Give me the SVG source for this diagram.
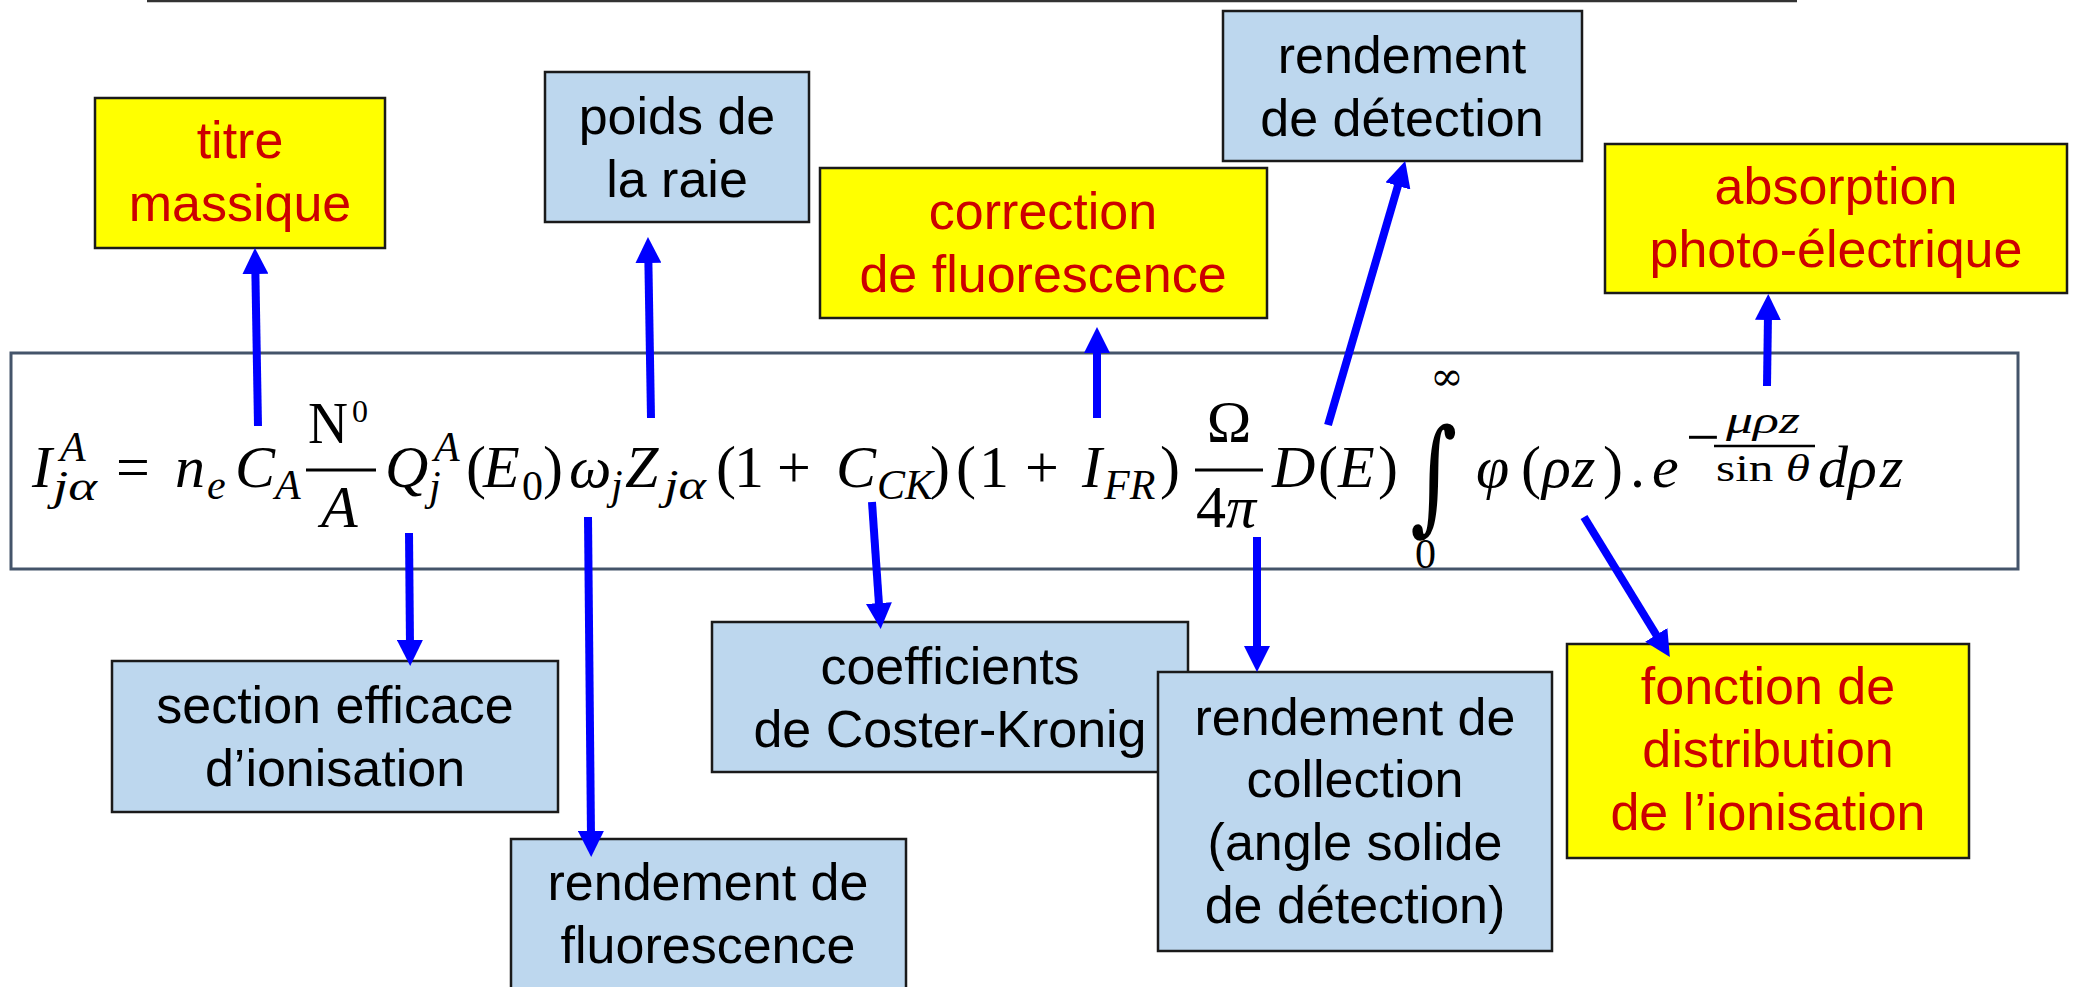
<svg xmlns="http://www.w3.org/2000/svg" width="2074" height="987" viewBox="0 0 2074 987">
<defs>
<style>
.lbl{font-family:"Liberation Sans",Arial,sans-serif;font-size:52px;text-anchor:middle}
.blk{fill:#000}
.red{fill:#CC0000}
.bbox{fill:#BDD7EE;stroke:#1a1a1a;stroke-width:2.5}
.ybox{fill:#FFFF00;stroke:#1a1a1a;stroke-width:2.5}
.m{font-family:"Liberation Serif","Times New Roman",serif;font-size:60px;fill:#000}
.i{font-style:italic}
.s{font-size:42px}
.ss{font-size:32px}
.e{font-size:38px}
.arr{stroke:#0000FF;stroke-width:8;fill:none;marker-end:url(#ah)}
.bar{stroke:#000;stroke-width:3}
</style>
<marker id="ah" markerUnits="userSpaceOnUse" viewBox="0 0 26 26" markerWidth="26" markerHeight="26" refX="6" refY="13" orient="auto">
<path d="M0,0 L26,13 L0,26 z" fill="#0000FF"/>
</marker>
</defs>
<rect width="2074" height="987" fill="#FFFFFF"/>
<line x1="147" y1="1" x2="1797" y2="1" stroke="#333" stroke-width="2.5"/>

<g id="formula">
<rect x="11" y="353" width="2007" height="216" fill="#FFFFFF" stroke="#44546A" stroke-width="3"/>
<text class="m i" x="32" y="487">I</text>
<text class="m i s" x="60" y="461">A</text>
<text class="m i s" x="53" y="500" textLength="44" lengthAdjust="spacingAndGlyphs">jα</text>
<text class="m" x="116" y="487" font-size="64">=</text>
<text class="m i" x="175" y="487">n</text>
<text class="m i s" x="207" y="499">e</text>
<text class="m i" x="235" y="487">C</text>
<text class="m i s" x="275" y="499">A</text>
<line class="bar" x1="306" y1="470" x2="376" y2="470"/>
<text class="m" x="308" y="443" font-size="42" textLength="40" lengthAdjust="spacingAndGlyphs">N</text>
<text class="m ss" x="352" y="422">0</text>
<text class="m i" x="321" y="527" font-size="44">A</text>
<text class="m i" x="385" y="487">Q</text>
<text class="m i s" x="434" y="461">A</text>
<text class="m i s" x="429" y="500">j</text>
<text class="m" x="466" y="487">(</text>
<text class="m i" x="483" y="487">E</text>
<text class="m s" x="522" y="500">0</text>
<text class="m" x="543" y="487">)</text>
<text class="m i" x="569" y="487">ω</text>
<text class="m i s" x="611" y="499">j</text>
<text class="m i" x="625" y="487">Z</text>
<text class="m i s" x="664" y="499" textLength="42" lengthAdjust="spacingAndGlyphs">jα</text>
<text class="m" x="716" y="487">(</text>
<text class="m" x="734" y="487">1</text>
<text class="m" x="777" y="487" font-size="68">+</text>
<text class="m i" x="836" y="487">C</text>
<text class="m i s" x="877" y="499">CK</text>
<text class="m" x="930" y="487">)</text>
<text class="m" x="956" y="487">(</text>
<text class="m" x="979" y="487">1</text>
<text class="m" x="1025" y="487" font-size="68">+</text>
<text class="m i" x="1082" y="487">I</text>
<text class="m i s" x="1104" y="499">FR</text>
<text class="m" x="1160" y="487">)</text>
<line class="bar" x1="1195" y1="470" x2="1263" y2="470"/>
<text class="m" x="1229" y="442" font-size="44" text-anchor="middle">Ω</text>
<text class="m" x="1196" y="527" font-size="44">4</text>
<text class="m i" x="1226" y="527" font-size="44">π</text>
<text class="m i" x="1272" y="487">D</text>
<text class="m" x="1318" y="487">(</text>
<text class="m i" x="1338" y="487">E</text>
<text class="m" x="1378" y="487">)</text>
<text x="1434" y="0" font-family="DejaVu Serif,serif" font-size="90" text-anchor="middle" transform="translate(0,518) scale(1,1.39)">∫</text>
<text x="1447" y="390" font-family="DejaVu Serif,serif" font-size="40" text-anchor="middle">∞</text>
<text class="m s" x="1415" y="568">0</text>
<text class="m i" x="1476" y="487">φ</text>
<text class="m" x="1521" y="487">(</text>
<text class="m i" x="1542" y="487">ρ</text>
<text class="m i" x="1572" y="487">z</text>
<text class="m" x="1603" y="487">)</text>
<text class="m" x="1630" y="487">.</text>
<text class="m i" x="1652" y="487">e</text>
<text class="m" x="1686" y="457" font-size="42">−</text>
<line x1="1714" y1="446" x2="1815" y2="446" stroke="#000" stroke-width="2.5"/>
<text class="m i e" x="1726" y="433" textLength="74" lengthAdjust="spacingAndGlyphs">μρz</text>
<text class="m e" x="1716" y="481" textLength="94" lengthAdjust="spacingAndGlyphs">sin <tspan font-style="italic">θ</tspan></text>
<text class="m i" x="1818" y="487">d</text>
<text class="m i" x="1848" y="487">ρ</text>
<text class="m i" x="1880" y="487">z</text>
</g>

<g id="titre-massique">
<rect class="ybox" x="95" y="98" width="290" height="150"/>
<text class="lbl red" x="240" y="158">titre</text>
<text class="lbl red" x="240" y="221">massique</text>
</g>
<g id="poids-raie">
<rect class="bbox" x="545" y="72" width="264" height="150"/>
<text class="lbl blk" x="677" y="134">poids de</text>
<text class="lbl blk" x="677" y="197">la raie</text>
</g>
<g id="correction-fluorescence">
<rect class="ybox" x="820" y="168" width="447" height="150"/>
<text class="lbl red" x="1043" y="229">correction</text>
<text class="lbl red" x="1043" y="292">de fluorescence</text>
</g>
<g id="rendement-detection">
<rect class="bbox" x="1223" y="11" width="359" height="150"/>
<text class="lbl blk" x="1402" y="73">rendement</text>
<text class="lbl blk" x="1402" y="136">de détection</text>
</g>
<g id="absorption">
<rect class="ybox" x="1605" y="144" width="462" height="149"/>
<text class="lbl red" x="1836" y="204">absorption</text>
<text class="lbl red" x="1836" y="267">photo-électrique</text>
</g>
<g id="section-efficace">
<rect class="bbox" x="112" y="661" width="446" height="151"/>
<text class="lbl blk" x="335" y="723">section efficace</text>
<text class="lbl blk" x="335" y="786">d’ionisation</text>
</g>
<g id="rendement-fluorescence">
<rect class="bbox" x="511" y="839" width="395" height="165"/>
<text class="lbl blk" x="708" y="900">rendement de</text>
<text class="lbl blk" x="708" y="963">fluorescence</text>
</g>
<g id="coster-kronig">
<rect class="bbox" x="712" y="622" width="476" height="150"/>
<text class="lbl blk" x="950" y="684">coefficients</text>
<text class="lbl blk" x="950" y="747">de Coster-Kronig</text>
</g>
<g id="rendement-collection">
<rect class="bbox" x="1158" y="672" width="394" height="279"/>
<text class="lbl blk" x="1355" y="735">rendement de</text>
<text class="lbl blk" x="1355" y="797">collection</text>
<text class="lbl blk" x="1355" y="860">(angle solide</text>
<text class="lbl blk" x="1355" y="923">de détection)</text>
</g>
<g id="fonction-distribution">
<rect class="ybox" x="1567" y="644" width="402" height="214"/>
<text class="lbl red" x="1768" y="704">fonction de</text>
<text class="lbl red" x="1768" y="767">distribution</text>
<text class="lbl red" x="1768" y="830">de l’ionisation</text>
</g>

<g id="connectors">
<line class="arr" x1="258" y1="426" x2="255.3" y2="268"/>
<line class="arr" x1="651" y1="418" x2="648.3" y2="257"/>
<line class="arr" x1="1097" y1="418" x2="1097" y2="347"/>
<line class="arr" x1="1328" y1="425" x2="1399.6" y2="180.2"/>
<line class="arr" x1="1767" y1="386" x2="1768" y2="314"/>
<line class="arr" x1="409" y1="533" x2="410" y2="646"/>
<line class="arr" x1="588" y1="517" x2="591" y2="837"/>
<line class="arr" x1="872" y1="502" x2="879.3" y2="609"/>
<line class="arr" x1="1257" y1="537" x2="1257" y2="652"/>
<line class="arr" x1="1584" y1="517" x2="1659.4" y2="640"/>
</g>
</svg>
